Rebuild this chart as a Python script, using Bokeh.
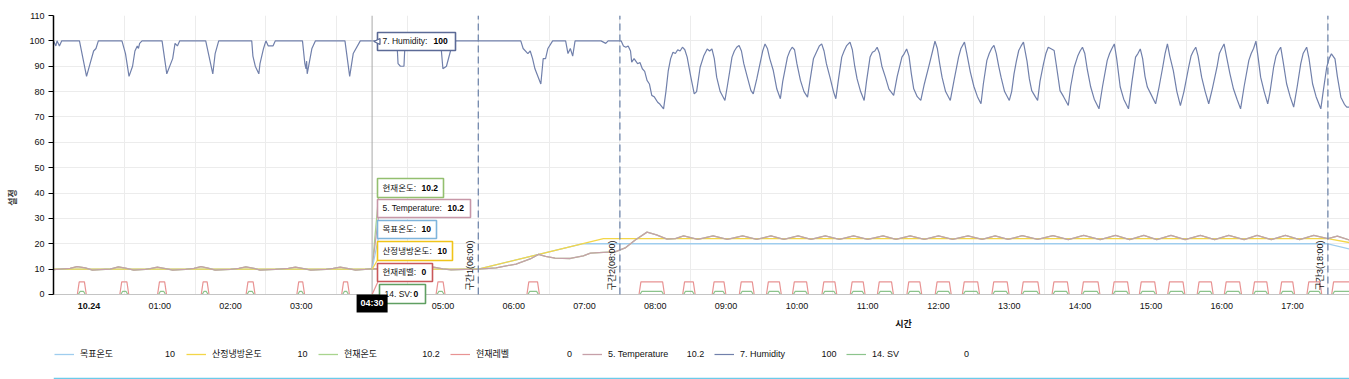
from math import pi
from bokeh.plotting import figure
from bokeh.models import (FixedTicker, Span, Label, BoxAnnotation, Legend,
                          LegendItem, Arrow, NormalHead, Range1d)
from bokeh.embed import file_html
from bokeh.resources import INLINE

# ---------------- data (time in minutes from 10.24 00:00) ----------------
x_labels = ["10.24", "01:00", "02:00", "03:00", "04:00", "05:00", "06:00", "07:00",
            "08:00", "09:00", "10:00", "11:00", "12:00", "13:00", "14:00", "15:00",
            "16:00", "17:00"]

hum_t = [0, 2, 3, 5, 7, 22, 25, 28, 31, 34, 36, 38, 58, 61, 64, 67, 69, 71, 72, 73, 75,
         92, 96, 101, 103, 105, 107, 129, 135, 137, 140, 168, 169, 171, 174, 175, 178,
         180, 182, 186, 188, 211, 213, 214, 214.5, 215, 219, 222, 247, 251, 254, 260,
         291, 292, 294, 297, 298, 328, 330, 333, 337, 341, 396, 398, 402, 404, 406, 408,
         413, 415, 417, 419, 423, 434, 436, 438, 440, 442, 464, 468, 470,
         481, 483, 485, 487, 489, 490, 492, 495, 497, 499, 501, 503, 505, 507, 509, 512,
         514, 517, 519, 521, 523, 525, 527, 529, 531, 533, 535, 537, 540, 543, 545, 548,
         551, 554, 556, 558, 560, 562, 565, 569, 571, 575, 577, 579, 581, 583, 585, 588,
         591, 593, 596, 599, 601, 603, 605, 607, 610, 613, 616, 618, 622, 624, 626, 628,
         630, 633, 636, 639, 641, 644, 647, 649, 651, 653, 655, 658, 661, 663, 665, 668,
         670, 672, 675, 677, 679, 681, 684, 687, 689, 692, 694, 696, 698, 700, 702, 705,
         708, 712, 715, 719, 721, 723, 725, 727, 729, 732, 735, 738, 742, 745, 747, 749,
         751, 753, 756, 760, 763, 767, 769, 772, 774, 777, 780, 783, 786, 788, 791, 793,
         795, 797, 799, 801, 803, 806, 810, 812, 814, 816, 818, 820, 822, 825, 827, 829,
         832, 834, 836, 839, 841, 843, 845, 848, 850, 853, 856, 860, 862, 865, 868, 870,
         872, 874, 876, 879, 882, 886, 889, 893, 895, 897, 899, 901, 904, 907, 911, 914,
         917, 919, 921, 923, 925, 927, 930, 934, 937, 940, 942, 944, 946, 949, 952, 955,
         958, 962, 964, 966, 968, 970, 973, 976, 979, 982, 986, 988, 990, 992, 994, 997,
         1000, 1003, 1006, 1009, 1013, 1015, 1017, 1019, 1021, 1023, 1026, 1029, 1031,
         1034, 1036, 1038, 1040, 1042, 1045, 1048, 1051, 1054, 1057, 1059, 1062, 1064,
         1067, 1070, 1074, 1076, 1079, 1081, 1083, 1086, 1088, 1091, 1094, 1096, 1098]
hum_v = [100, 98, 100, 98, 100, 100, 93, 86, 91, 96, 97, 100, 100, 95, 86, 90, 96, 98, 97,
         99, 100, 100, 87, 93, 99, 98, 100, 100, 87, 95, 100, 100, 94, 90, 87, 91, 97, 100,
         98, 98, 100, 100, 91, 89, 92, 87, 97, 100, 100, 86, 95, 100, 100, 91, 90, 90, 100,
         100, 89, 90, 97, 100, 100, 97, 95, 96, 93, 89, 83, 93, 93, 97, 100, 100, 95, 97,
         94, 100, 100, 99, 100,
         100, 98, 97.5, 98, 96, 91.6, 93, 91, 91.5, 89, 88, 84.4, 83, 78.5, 78, 75.8,
         75, 73.2, 80, 88.3, 93, 95.5, 95, 96.5, 96, 97.5, 96.5, 93.6, 86, 79.1, 80, 89.6,
         94, 96.8, 96, 96.8, 93, 85.7, 80, 76.5, 82, 93.6, 96, 97.5, 98.2, 96, 91, 85.7,
         80.5, 79.1, 85, 91.6, 96, 98.8, 97, 93, 88.3, 81, 77.2, 84, 93.6, 96, 97.5, 96.5,
         91, 84.4, 80, 77.8, 84, 92.9, 96, 98, 98.8, 96, 91, 85.7, 80, 77.2, 84, 93.6,
         96, 98, 99.5, 96.5, 90, 85, 80, 76.5, 84, 93.6, 95.5, 96, 97.5, 95, 90, 85.7,
         81, 78.5, 86, 93.6, 95, 96.8, 94, 87, 81.1, 78, 76.5, 83, 90.3, 96, 99.9, 97,
         91, 85.7, 80, 76.5, 84, 93.6, 97, 99.5, 95, 87.7, 82, 78, 75.2, 83, 92.3, 95,
         97, 98.2, 95, 90, 85.7, 80, 76.5, 80, 87, 92, 96.2, 98, 99.5, 92, 85, 80.4,
         78, 76.5, 84, 91, 95, 97.5, 97, 96.2, 90, 80.4, 78, 74.5, 82, 89.6, 94, 96,
         97.5, 95, 89, 81.8, 77, 73.2, 82, 92.3, 95, 97, 98.8, 93, 81.8, 77, 73.2, 84,
         93.6, 95, 96.8, 93, 86, 81.8, 79, 75.2, 82, 89.6, 95, 98.8, 94, 88.3, 80, 74.5,
         80, 89.6, 94, 96, 97.5, 94, 85.7, 80, 75.2, 81, 89.6, 95, 97, 98.8, 94, 87,
         81, 77, 73.2, 82, 92.3, 95, 97, 99.9, 93, 85.7, 80, 75.2, 80,
         89.6, 94, 96, 97.5, 92, 83.1, 78, 73.9, 82, 91, 95, 97.5, 93,
         83.1, 78, 73.2, 80, 89.6, 93, 94.9, 92.9, 86, 77.8, 75, 73.9, 73.9]

temp_t = [0, 14, 20, 27, 33, 40, 48, 55, 61, 68, 78, 82, 88, 95, 101, 112, 119, 125, 131,
          137, 150, 157, 163, 170, 175, 188, 199, 205, 212, 218, 231, 237, 243, 250, 256,
          264, 271, 286, 294, 315, 322, 330, 337, 349, 360, 375, 392, 404, 411, 417, 425,
          438, 449, 455, 466, 476, 485, 493, 503, 511, 520, 527, 534, 546, 559, 571, 584,
          596, 608, 619, 631, 642, 654, 666, 678, 690, 703, 714, 726, 738, 750, 762, 775,
          787, 798, 809, 821, 834, 847, 860, 873, 887, 900, 912, 924, 935, 947, 959, 972,
          984, 996, 1009, 1020, 1032, 1044, 1056, 1068, 1080, 1088, 1098]
temp_v = [9.8, 10.3, 11.0, 10.5, 9.6, 9.8, 10.0, 10.9, 10.4, 9.6, 9.9, 10.2, 10.8, 10.2,
          9.6, 9.9, 10.3, 11.0, 10.4, 9.6, 9.9, 10.3, 10.9, 10.3, 9.6, 9.9, 10.3, 10.8, 10.2,
          9.6, 9.9, 10.3, 10.8, 10.2, 9.6, 9.9, 10.2, 10.0, 10.2, 10.3, 10.8, 10.1, 9.7, 9.9,
          10.0, 10.5, 12.0, 14.0, 15.8, 15.0, 14.3, 14.2, 15.2, 16.3, 16.6, 16.8, 18.5, 21.5,
          24.6, 23.5, 21.8, 22.0, 23.1, 21.7, 23.1, 21.7, 23.1, 21.7, 23.1, 21.7, 23.1, 21.7,
          23.1, 21.7, 23.1, 21.7, 23.1, 21.7, 23.1, 21.7, 23.1, 21.7, 23.1, 21.7, 23.1, 21.7,
          23.2, 21.7, 23.2, 21.6, 23.3, 21.6, 23.3, 21.6, 23.3, 21.6, 23.3, 21.6, 23.3, 21.6,
          23.3, 21.6, 23.3, 21.6, 23.3, 21.6, 23.3, 22.0, 23.0, 21.5]

cur_temp_t = temp_t
cur_temp_v = temp_v

target_t = [0, 360, 448, 1080, 1098]
target_v = [10, 10, 20, 20, 18]

cool_t = [0, 360, 466, 1080, 1098]
cool_v = [10, 10, 22, 22, 20.5]

pulse_on = [21, 57, 89, 126, 164, 207, 245, 325, 402, 497, 534, 559, 582, 605, 627, 652,
            676, 699, 724, 748, 771, 796, 821, 847, 872, 898, 921, 945, 970, 993, 1017,
            1040, 1063, 1084]
pulse_off = [27, 63, 95, 131, 170, 212, 250, 331, 411, 517, 543, 569, 593, 616, 639, 663,
             687, 711, 735, 760, 784, 809, 835, 860, 886, 911, 934, 958, 982, 1006, 1029,
             1051, 1074, 1100]
level_on_value = 5.0
sv_on_value = 1.2

legend_names = ["목표온도", "산정냉방온도", "현재온도", "현재레벨", "5. Temperature",
                "7. Humidity", "14. SV"]
legend_values = ["10", "10", "10.2", "0", "10.2", "100", "0"]

cursor_label = "04:30"
section_names = ["구간1(06:00)", "구간2(08:00)", "구간3(18:00)"]
section_hours = [6, 8, 18]

# ---------------- helpers ----------------
FONT = "'Liberation Sans', 'Noto Sans CJK KR', sans-serif"
PX_PER_H = 70.8
LEFT_PX = 53.0
BOTTOM_PX = 294.0
PX_PER_V = 2.536


def hrs(ts):
    return [t / 60.0 for t in ts]


def hx(px):  # page pixel -> hours (annotation placement)
    return (px - LEFT_PX) / PX_PER_H


def vy(py):  # page pixel -> value (annotation placement)
    return (BOTTOM_PX - py) / PX_PER_V


level_t, level_v = [0], [0]
sv_t, sv_v = [0], [0]
for a, b in zip(pulse_on, pulse_off):
    level_t += [a - 0.8, a + 0.8, b - 0.8, b + 0.8]
    level_v += [0, level_on_value, level_on_value, 0]
    sv_t += [a, a + 1.5, b - 1.5, b]
    sv_v += [0, sv_on_value, sv_on_value, 0]

C_TARGET = "#9fcdee"
C_COOL = "#f3d648"
C_CUR = "#a9d48e"
C_LEVEL = "#e89393"
C_TEMP = "#c6a0a9"
C_HUM = "#7180ab"
C_SV = "#8cc48c"

W, H = 1349, 379
p = figure(width=W, height=H, output_backend="svg", toolbar_location=None,
           x_range=Range1d(0, (W - LEFT_PX) / PX_PER_H),
           y_range=Range1d(vy(H), 110),
           min_border_left=int(LEFT_PX), min_border_right=0, min_border_top=15,
           min_border_bottom=0)
p.outline_line_color = None
p.background_fill_color = "white"
p.border_fill_color = "white"

# grids (only above the zero line)
p.xgrid.ticker = FixedTicker(ticks=list(range(0, 19)))
p.ygrid.ticker = FixedTicker(ticks=list(range(0, 111, 10)))
p.xgrid.grid_line_color = "#ececec"
p.ygrid.grid_line_color = "#ececec"
p.add_layout(BoxAnnotation(top=vy(BOTTOM_PX + 0.6), fill_color="white", fill_alpha=1,
                           line_alpha=0, level="underlay"))

# x axis fixed on the zero line
xax = p.xaxis[0]
xax.fixed_location = 0
xax.ticker = FixedTicker(ticks=[i + 0.5 for i in range(len(x_labels))])
xax.major_label_overrides = {i + 0.5: (lab if i > 0 else "")
                             for i, lab in enumerate(x_labels)}
xax.axis_line_color = "#c4c4c4"
xax.major_tick_line_color = None
xax.major_tick_out = 0
xax.major_tick_in = 0
xax.minor_tick_line_color = None
xax.major_label_standoff = 7
xax.major_label_text_font = FONT
xax.major_label_text_font_size = "9px"
xax.major_label_text_color = "#111111"

yax = p.yaxis[0]
yax.ticker = FixedTicker(ticks=list(range(0, 111, 10)))
yax.bounds = (0, 110)
yax.axis_line_color = "black"
yax.axis_line_width = 1.5
yax.major_tick_out = 5
yax.major_tick_in = 0
yax.minor_tick_line_color = None
yax.major_label_standoff = 4
yax.major_label_text_font = FONT
yax.major_label_text_font_size = "9px"
yax.major_label_text_color = "#111111"
yax.axis_label = "설정"
yax.axis_label_text_font = FONT
yax.axis_label_text_font_size = "9px"
yax.axis_label_text_font_style = "bold"
yax.axis_label_standoff = 8

# series
r_level = p.line(hrs(level_t), level_v, line_color=C_LEVEL, line_width=1.2)
r_sv = p.line(hrs(sv_t), sv_v, line_color=C_SV, line_width=1.2)
r_target = p.line(hrs(target_t), target_v, line_color=C_TARGET, line_width=1.3)
r_cool = p.line(hrs(cool_t), cool_v, line_color=C_COOL, line_width=1.3)
r_cur = p.line(hrs(cur_temp_t), cur_temp_v, line_color=C_CUR, line_width=1.3)
r_temp = p.line(hrs(temp_t), temp_v, line_color=C_TEMP, line_width=1.3)
r_hum = p.line(hrs(hum_t), hum_v, line_color=C_HUM, line_width=1.2)

# section markers
for name, h in zip(section_names, section_hours):
    p.add_layout(Arrow(end=None, x_start=h, y_start=0, x_end=h, y_end=110,
                       line_color="#7288ad", line_dash="7 4", line_width=1.3))
    p.add_layout(Label(x=h, y=vy(290), x_offset=-3, text=name, angle=pi / 2,
                       text_align="left", text_baseline="bottom",
                       text_font=FONT, text_font_size="9px", text_color="#111111"))

# crosshair at 04:30
cursor_h = 4.5
p.add_layout(Arrow(end=None, x_start=cursor_h, y_start=0, x_end=cursor_h, y_end=110,
                   line_color="#a9a9a9", line_width=1))

# legend
items = [LegendItem(label=n, renderers=[r]) for n, r in
         zip(legend_names, [r_target, r_cool, r_cur, r_level, r_temp, r_hum, r_sv])]
legend = Legend(items=items, orientation="horizontal", location=(1, H - 360),
                glyph_width=20, glyph_height=12, label_height=12, label_width=106,
                label_standoff=6, spacing=0, padding=0, margin=0,
                border_line_color=None, background_fill_alpha=0,
                label_text_font=FONT, label_text_font_size="9px",
                label_text_color="#111111")
p.add_layout(legend)
for i, val in enumerate(legend_values):
    p.add_layout(Label(x=hx(53.6 + 132.3 * i + 121), y=vy(354), text=val,
                       text_align="right", text_baseline="middle", text_font=FONT,
                       text_font_size="9px", text_color="#111111"))

# tooltip connectors
conn = [(C_CUR, 10.2, 196), (C_TEMP, 10.2, 216), (C_TARGET, 10, 237),
        (C_COOL, 10, 258), (C_LEVEL, 0, 280), (C_SV, 0, 296)]
for col, y0, py in conn:
    p.add_layout(Arrow(end=None, x_start=cursor_h, y_start=y0, x_end=hx(378),
                       y_end=vy(py), line_color=col, line_width=1.2))

# tooltip boxes: (name, value, border, left, right, top, bottom, value_x)
tips = [("7. Humidity:", "100", "#5b6a96", 377, 455, 32, 50, 433),
        ("현재온도:", "10.2", "#93bf6f", 377, 443, 178, 197, 421),
        ("5. Temperature:", "10.2", "#c797a8", 377, 470, 199, 217, 447),
        ("목표온도:", "10", "#7fb5dc", 377, 436, 220, 238, 421),
        ("산정냉방온도:", "10", "#f0c419", 377, 452, 241, 260, 437),
        ("현재레벨:", "0", "#c9585a", 377, 432, 263, 281, 421),
        ("14. SV:", "0", "#5f9f62", 379, 425, 284, 303, 413)]
for name, val, col, l, r, t, b, vx in tips:
    p.add_layout(BoxAnnotation(left=hx(l), right=hx(r), top=vy(t), bottom=vy(b),
                               fill_color="white", fill_alpha=1, line_color=col,
                               line_width=1.6, line_alpha=1))
    yc = vy((t + b) / 2)
    p.add_layout(Label(x=hx(l + 5), y=yc, text=name, text_align="left",
                       text_baseline="middle", text_font=FONT,
                       text_font_size="8.5px", text_color="#111111"))
    p.add_layout(Label(x=hx(vx), y=yc, text=val, text_align="left",
                       text_baseline="middle", text_font=FONT,
                       text_font_size="8.5px", text_font_style="bold",
                       text_color="#000000"))

# pointer notch of the humidity tooltip
p.add_layout(Arrow(x_start=hx(386), y_start=vy(41), x_end=hx(373.5), y_end=vy(41),
                   line_alpha=0,
                   end=NormalHead(size=6, fill_color="white", line_color="#5b6a96",
                                  line_width=1.3)))

# cursor time box
p.add_layout(Label(x=cursor_h, y=vy(303), text=cursor_label, text_align="center",
                   text_baseline="middle", text_font=FONT, text_font_size="9px",
                   text_font_style="bold", text_color="white",
                   background_fill_color="black", background_fill_alpha=1,
                   padding=4))

# bold first tick label and x-axis title
p.add_layout(Label(x=0.5, y=vy(306), text=x_labels[0], text_align="center",
                   text_baseline="middle", text_font=FONT, text_font_size="9px",
                   text_font_style="bold", text_color="#111111"))
p.add_layout(Label(x=hx(903), y=vy(324), text="시간", text_align="center",
                   text_baseline="middle", text_font=FONT, text_font_size="9px",
                   text_font_style="bold", text_color="#111111"))

# bottom rule of the panel
p.add_layout(Span(location=vy(378), dimension="width", line_color="#6ccbea",
                  line_width=1.5))

open("out.html", "w").write(file_html(p, INLINE))
